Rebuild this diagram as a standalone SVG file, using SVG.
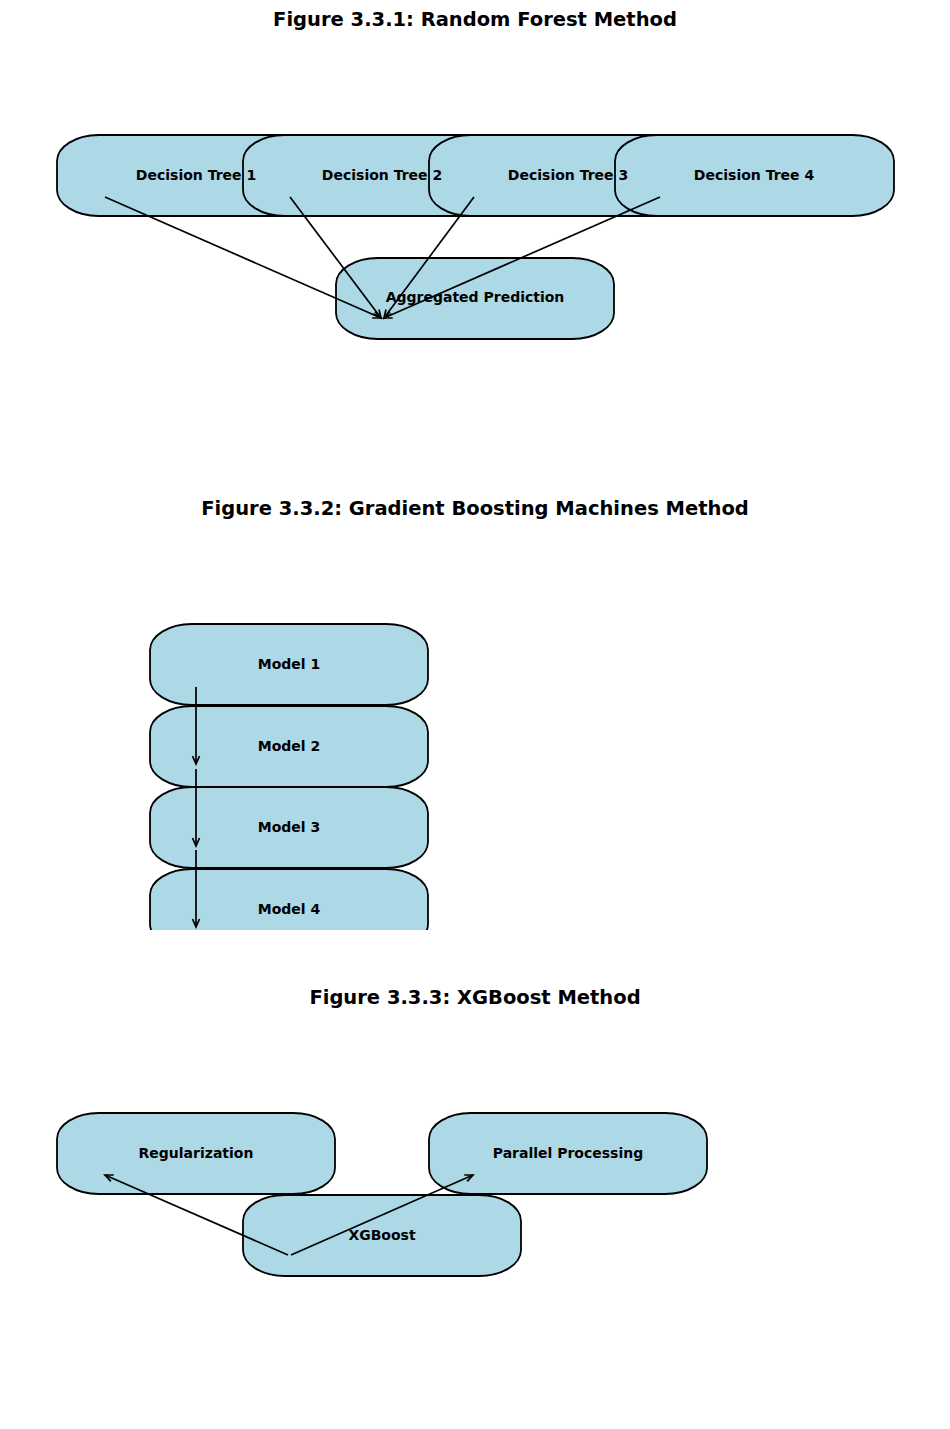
<svg xmlns="http://www.w3.org/2000/svg" width="950" height="1429" viewBox="0 0 950 1429">
<defs>
<style>
.box{fill:#add8e6;stroke:#000;stroke-width:1.8}
.lbl{font-family:"DejaVu Sans",sans-serif;font-weight:bold;font-size:14px;text-anchor:middle;dominant-baseline:central;fill:#000}
.title{font-family:"DejaVu Sans",sans-serif;font-weight:bold;font-size:19.5px;text-anchor:middle;dominant-baseline:central;fill:#000}
.edge{stroke:#000;stroke-width:1.7;fill:none;marker-end:url(#arr)}
</style>
<marker id="arr" viewBox="-10 -5 12 10" markerWidth="12" markerHeight="10" refX="0" refY="0" orient="auto" markerUnits="userSpaceOnUse">
<path d="M-8,-3.5 L0,0 L-8,3.5" fill="none" stroke="#000" stroke-width="1.7"/>
</marker>
<clipPath id="clip2"><rect x="0" y="540" width="950" height="390"/></clipPath>
</defs>
<rect width="950" height="1429" fill="#fff"/>

<text class="title" x="475" y="19">Figure 3.3.1: Random Forest Method</text>
<g id="dt1"><rect class="box" x="57" y="135" width="279" height="81" rx="42" ry="26"/></g>
<g id="dt2"><rect class="box" x="243" y="135" width="279" height="81" rx="42" ry="26"/></g>
<g id="dt3"><rect class="box" x="429" y="135" width="279" height="81" rx="42" ry="26"/></g>
<g id="dt4"><rect class="box" x="615" y="135" width="279" height="81" rx="42" ry="26"/></g>
<g id="agg"><rect class="box" x="336" y="258" width="278" height="81" rx="42" ry="26"/></g>
<g id="edges1">
<line class="edge" x1="105" y1="197" x2="381" y2="318"/>
<line class="edge" x1="290" y1="197" x2="381" y2="318"/>
<line class="edge" x1="474" y1="197" x2="384" y2="318"/>
<line class="edge" x1="660" y1="197" x2="384" y2="318"/>
</g>
<g id="labels1">
<text class="lbl" x="196" y="175">Decision Tree 1</text>
<text class="lbl" x="382" y="175">Decision Tree 2</text>
<text class="lbl" x="568" y="175">Decision Tree 3</text>
<text class="lbl" x="754" y="175">Decision Tree 4</text>
<text class="lbl" x="475" y="297">Aggregated Prediction</text>
</g>

<text class="title" x="475" y="508">Figure 3.3.2: Gradient Boosting Machines Method</text>
<g clip-path="url(#clip2)">
<g id="m1"><rect class="box" x="150" y="624" width="278" height="81" rx="42" ry="26"/></g>
<g id="m2"><rect class="box" x="150" y="706" width="278" height="81" rx="42" ry="26"/></g>
<g id="m3"><rect class="box" x="150" y="787" width="278" height="81" rx="42" ry="26"/></g>
<g id="m4"><rect class="box" x="150" y="869" width="278" height="81" rx="42" ry="26"/></g>
<g id="edges2">
<line class="edge" x1="196" y1="687" x2="196" y2="764"/>
<line class="edge" x1="196" y1="769" x2="196" y2="846"/>
<line class="edge" x1="196" y1="850" x2="196" y2="927"/>
</g>
<g id="labels2">
<text class="lbl" x="289" y="664">Model 1</text>
<text class="lbl" x="289" y="746">Model 2</text>
<text class="lbl" x="289" y="827">Model 3</text>
<text class="lbl" x="289" y="909">Model 4</text>
</g>
</g>

<text class="title" x="475" y="997">Figure 3.3.3: XGBoost Method</text>
<g id="reg"><rect class="box" x="57" y="1113" width="278" height="81" rx="42" ry="26"/></g>
<g id="par"><rect class="box" x="429" y="1113" width="278" height="81" rx="42" ry="26"/></g>
<g id="xgb"><rect class="box" x="243" y="1195" width="278" height="81" rx="42" ry="26"/></g>
<g id="edges3">
<line class="edge" x1="288" y1="1255" x2="105" y2="1175"/>
<line class="edge" x1="291" y1="1255" x2="473" y2="1175"/>
</g>
<g id="labels3">
<text class="lbl" x="196" y="1153">Regularization</text>
<text class="lbl" x="568" y="1153">Parallel Processing</text>
<text class="lbl" x="382" y="1235">XGBoost</text>
</g>
</svg>
